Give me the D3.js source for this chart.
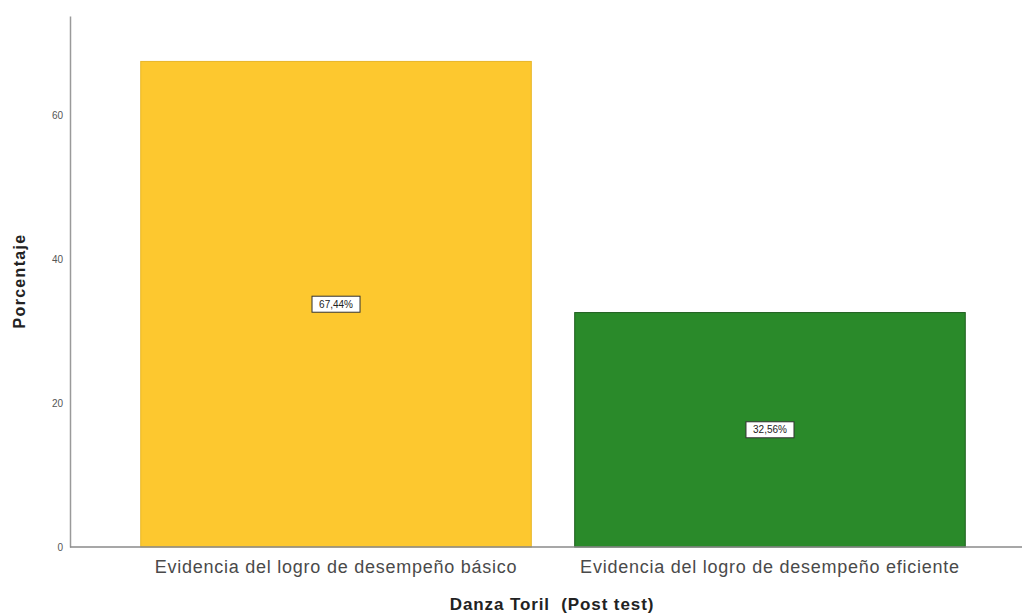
<!DOCTYPE html>
<html>
<head>
<meta charset="utf-8">
<script src="https://cdn.jsdelivr.net/npm/d3@7"></script>
<style>
  body { margin: 0; background: #fff; }
  svg { display: block; font-family: "Liberation Sans", Arial, sans-serif; }
</style>
</head>
<body>
<div id="chart"></div>
<script>
// categories and percentages
var categories = ["Evidencia del logro de desempeño básico", "Evidencia del logro de desempeño eficiente"];
var values = [67.44, 32.56];
var valueLabels = ["67,44%", "32,56%"];
var barColors = ["#fdc82f", "#2a8a2a"];
var barStrokes = ["#e8b628", "#1e5e1e"];
var yTicks = [0, 20, 40, 60];

var width = 1022, height = 614;
var mLeft = 70, mBottom = 547, mTop = 16;

var svg = d3.select("#chart").append("svg")
    .attr("width", width)
    .attr("height", height);

var x = d3.scaleBand()
    .domain(categories)
    .range([mLeft, 1036])
    .paddingInner(0.1)
    .paddingOuter(0.163);

var y = d3.scaleLinear()
    .domain([0, 73.75])
    .range([mBottom, mTop]);

// bars
svg.selectAll("rect.bar")
    .data(values)
    .enter().append("rect")
    .attr("class", "bar")
    .attr("x", (d, i) => x(categories[i]))
    .attr("y", d => y(d))
    .attr("width", x.bandwidth())
    .attr("height", d => y(0) - y(d))
    .attr("fill", (d, i) => barColors[i])
    .attr("stroke", (d, i) => barStrokes[i])
    .attr("stroke-width", 1);

// y axis: line plus labels, no tick marks
var yAxis = d3.axisLeft(y).tickValues(yTicks).tickSize(0).tickPadding(7);
var yg = svg.append("g")
    .attr("transform", "translate(" + mLeft + ",0)")
    .call(yAxis);
yg.select(".domain").attr("stroke", "#9a9a9a").attr("stroke-width", 1.5);
yg.selectAll("text").attr("fill", "#555").style("font-size", "10px");

// x axis line and category labels
var xAxis = d3.axisBottom(x).tickSize(0).tickPadding(13);
var xg = svg.append("g")
    .attr("transform", "translate(0," + mBottom + ")")
    .call(xAxis);
xg.select(".domain").remove();
xg.append("line")
    .attr("x1", mLeft).attr("x2", width)
    .attr("y1", 0).attr("y2", 0)
    .attr("stroke", "#8a8a8a").attr("stroke-width", 1.5);
xg.selectAll("text")
    .attr("fill", "#4a4a4a")
    .style("font-size", "18px")
    .style("letter-spacing", "0.75px");

// value labels in white boxes
var lab = svg.selectAll("g.vlab")
    .data(values)
    .enter().append("g")
    .attr("class", "vlab")
    .attr("transform", (d, i) => "translate(" + (x(categories[i]) + x.bandwidth() / 2) + "," + ((y(d) + y(0)) / 2) + ")");
lab.append("rect")
    .attr("x", -24).attr("y", -8)
    .attr("width", 48).attr("height", 16)
    .attr("fill", "#fff")
    .attr("stroke", "#333").attr("stroke-width", 1);
lab.append("text")
    .attr("text-anchor", "middle")
    .attr("dy", "0.35em")
    .style("font-size", "10px")
    .attr("fill", "#222")
    .text((d, i) => valueLabels[i]);

// axis titles
svg.append("text")
    .attr("transform", "translate(25,281) rotate(-90)")
    .attr("text-anchor", "middle")
    .style("font-size", "16px")
    .style("font-weight", "bold")
    .style("letter-spacing", "1.3px")
    .attr("fill", "#222")
    .text("Porcentaje");

svg.append("text")
    .attr("x", 552).attr("y", 610)
    .attr("text-anchor", "middle")
    .style("font-size", "17px")
    .style("font-weight", "bold")
    .style("letter-spacing", "0.9px")
    .style("white-space", "pre")
    .attr("fill", "#222")
    .text("Danza Toril  (Post test)");
</script>
</body>
</html>
